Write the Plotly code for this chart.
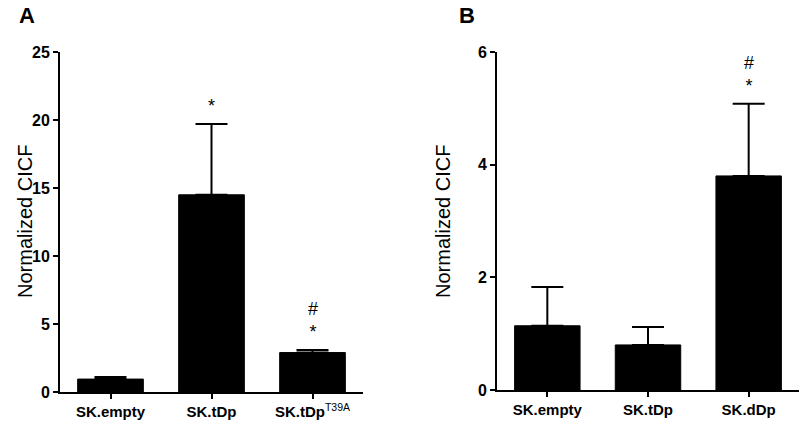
import plotly.graph_objects as go

# Panel A data
cats_a = ["SK.empty", "SK.tDp", "SK.tDp<span style='font-weight:normal'><sup>T39A</sup></span>"]
vals_a = [0.95, 14.5, 2.9]
err_a = [0.15, 5.2, 0.18]
marks_a = ["", "*", "#<br>*"]

# Panel B data
cats_b = ["SK.empty", "SK.tDp", "SK.dDp"]
vals_b = [1.14, 0.80, 3.80]
err_b = [0.69, 0.32, 1.28]
marks_b = ["", "", "#<br>*"]

yticks_a = [0, 5, 10, 15, 20, 25]
yticks_b = [0, 2, 4, 6]

FONT = "Liberation Sans, Arial, sans-serif"

fig = go.Figure()
for cats, vals, errs, xa, ya in [(cats_a, vals_a, err_a, "x", "y"), (cats_b, vals_b, err_b, "x2", "y2")]:
    fig.add_trace(go.Bar(
        x=cats, y=vals, xaxis=xa, yaxis=ya, width=0.65,
        marker=dict(color="black", line=dict(width=1, color="black")),
        error_y=dict(type="data", symmetric=False, array=errs, arrayminus=[0]*len(errs),
                     color="black", thickness=2, width=16),
        showlegend=False,
    ))

annotations = []
for cats, vals, errs, marks, xr, yr in [(cats_a, vals_a, err_a, marks_a, "x", "y"),
                                         (cats_b, vals_b, err_b, marks_b, "x2", "y2")]:
    for c, v, e, m in zip(cats, vals, errs, marks):
        if not m:
            continue
        annotations.append(dict(
            x=c, y=v + e, xref=xr, yref=yr, text=m, showarrow=False,
            yanchor="bottom", yshift=6, font=dict(family=FONT, size=18, color="black"),
        ))

annotations += [
    dict(x=17/800, y=1 - 1/424, xref="paper", yref="paper", text="<b>A</b>", showarrow=False,
         xanchor="left", yanchor="top", font=dict(family=FONT, size=22, color="black")),
    dict(x=457/800, y=1 - 1/424, xref="paper", yref="paper", text="<b>B</b>", showarrow=False,
         xanchor="left", yanchor="top", font=dict(family=FONT, size=22, color="black")),
    dict(x=12/800, y=(424 - 222)/424, xref="paper", yref="paper", text="Normalized CICF",
         textangle=-90, showarrow=False, font=dict(family=FONT, size=20, color="black")),
    dict(x=443/800, y=(424 - 222)/424, xref="paper", yref="paper", text="Normalized CICF",
         textangle=-90, showarrow=False, font=dict(family=FONT, size=20, color="black")),
]

xcommon = dict(type="category", showline=True, linecolor="black", linewidth=2,
               ticks="outside", ticklen=5, tickwidth=2, tickcolor="black",
               showgrid=False, zeroline=False, automargin=False, range=[-0.5, 2.5],
               tickfont=dict(family=FONT, size=15, color="black", weight="bold"))
ycommon = dict(showline=True, linecolor="black", linewidth=2,
               ticks="outside", ticklen=5, tickwidth=2, tickcolor="black",
               showgrid=False, zeroline=False, automargin=False,
               tickfont=dict(family=FONT, size=16, color="black", weight="bold"))

fig.update_layout(
    width=800, height=424,
    margin=dict(l=0, r=0, t=0, b=0),
    paper_bgcolor="white", plot_bgcolor="white",
    bargap=0.35,
    xaxis=dict(domain=[60/800, 363/800], anchor="y", **xcommon),
    yaxis=dict(domain=[(424-392)/424, (424-52)/424], anchor="x", range=[0, 25],
               tickvals=yticks_a, **ycommon),
    xaxis2=dict(domain=[497/800, 799/800], anchor="y2", **xcommon),
    yaxis2=dict(domain=[(424-390)/424, (424-52)/424], anchor="x2", range=[0, 6],
                tickvals=yticks_b, **ycommon),
    annotations=annotations,
)

fig.write_html("out.html", config={"displayModeBar": False},
               post_script="document.body.style.margin='0';document.body.style.overflow='hidden';")
